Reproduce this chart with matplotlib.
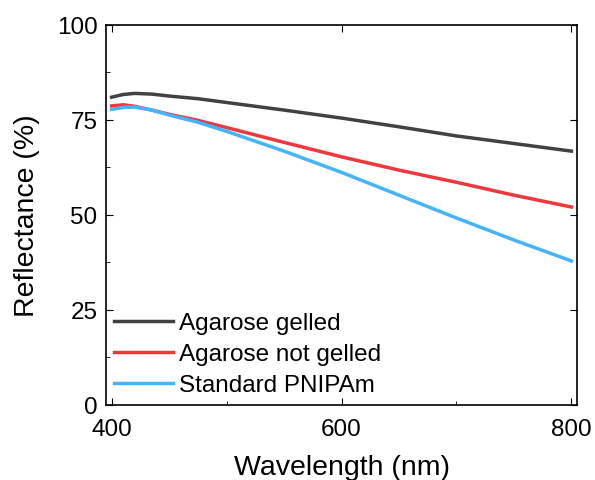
import numpy as np
from matplotlib import pyplot as plt
from matplotlib.ticker import MultipleLocator

plt.rcParams['font.family'] = ['Liberation Sans', 'DejaVu Sans']

wavelength = [400, 410, 420, 435, 450, 475, 500, 550, 600, 650, 700, 750, 800]
agarose_gelled = [81.0, 81.7, 82.0, 81.8, 81.3, 80.6, 79.6, 77.6, 75.5, 73.2, 70.8, 68.8, 66.8]
agarose_not_gelled = [78.7, 79.0, 78.6, 77.6, 76.5, 74.9, 73.0, 69.1, 65.3, 61.8, 58.6, 55.2, 52.1]
standard_pnipam = [77.8, 78.3, 78.4, 77.6, 76.3, 74.4, 72.0, 66.8, 61.2, 55.2, 49.2, 43.4, 37.9]

names = ['Agarose gelled', 'Agarose not gelled', 'Standard PNIPAm']
colors = ['#424242', '#f0373c', '#45b4ff']

fig = plt.figure(figsize=(5.95, 4.81), dpi=100)
ax = fig.add_axes([0.178, 0.156, 0.792, 0.790])

for y, name, c in zip([agarose_gelled, agarose_not_gelled, standard_pnipam], names, colors):
    ax.plot(wavelength, y, color=c, lw=2.5, label=name)

ax.set_xlim(395, 805)
ax.set_ylim(0, 100)
ax.set_xticks([400, 600, 800])
ax.set_yticks([0, 25, 50, 75, 100])
ax.xaxis.set_minor_locator(MultipleLocator(100))
ax.yaxis.set_minor_locator(MultipleLocator(12.5))
ax.tick_params(which='both', direction='in', labelsize=17.5)
ax.tick_params(which='major', length=5, top=True, right=True)
ax.tick_params(which='minor', length=3)
ax.tick_params(axis='x', pad=9.5)
ax.tick_params(axis='y', pad=6)
for s in ax.spines.values():
    s.set_linewidth(1.2)
ax.set_xlabel('Wavelength (nm)', fontsize=20.5, labelpad=10)
ax.set_ylabel('Reflectance (%)', fontsize=20.5, labelpad=12)
ax.legend(loc='lower left', frameon=False, fontsize=17.5, handlelength=2.4,
          handletextpad=0.25, labelspacing=0.37, borderpad=0, borderaxespad=0.35)

fig.savefig('out.png', dpi=100)
